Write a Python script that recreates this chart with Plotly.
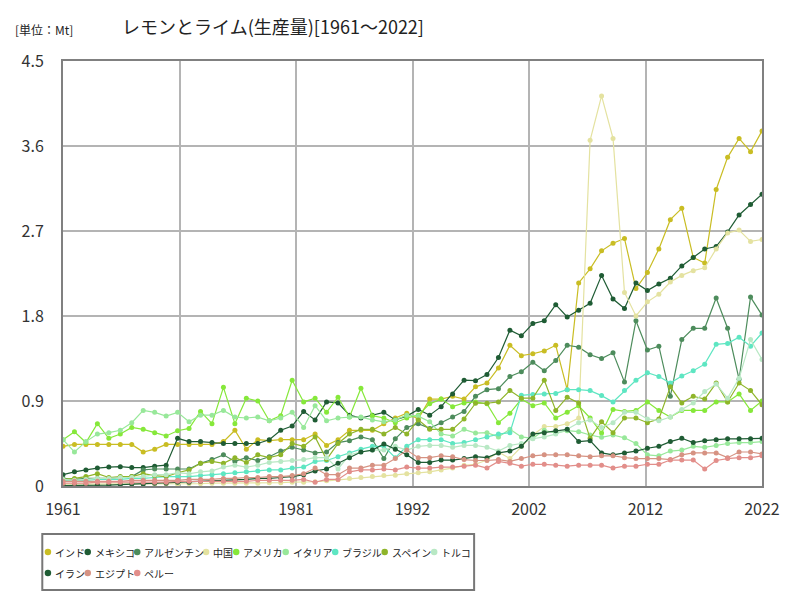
import plotly.graph_objects as go

years = list(range(1961, 2023))

india = [0.42, 0.44, 0.44, 0.44, 0.44, 0.44, 0.44, 0.36, 0.39, 0.44,
         0.44, 0.44, 0.44, 0.44, 0.47, 0.59, 0.39, 0.49, 0.48, 0.49,
         0.49, 0.49, 0.55, 0.43, 0.49, 0.59, 0.59, 0.59, 0.66, 0.72,
         0.77, 0.71, 0.92, 0.92, 0.95, 0.92, 1.05, 1.09, 1.25, 1.49,
         1.38, 1.40, 1.43, 1.49, 1.02, 2.15, 2.30, 2.49, 2.57, 2.62,
         2.09, 2.26, 2.51, 2.82, 2.94, 2.42, 2.36, 3.14, 3.48, 3.68,
         3.54, 3.76]
mexico = [0.12, 0.15, 0.17, 0.19, 0.20, 0.205, 0.195, 0.195, 0.21, 0.22,
          0.505, 0.47, 0.47, 0.46, 0.45, 0.45, 0.45, 0.45, 0.49, 0.59,
          0.635, 0.79, 0.70, 0.89, 0.88, 0.75, 0.72, 0.75, 0.78, 0.70,
          0.74, 0.81, 0.75, 0.84, 0.975, 1.12, 1.115, 1.18, 1.36, 1.65,
          1.59, 1.72, 1.75, 1.92, 1.79, 1.86, 1.935, 2.23, 1.98, 1.88,
          2.15, 2.07, 2.14, 2.20, 2.33, 2.42, 2.51, 2.535, 2.69, 2.87,
          2.98, 3.09]
argentina = [0.08, 0.07, 0.08, 0.08, 0.08, 0.09, 0.10, 0.17, 0.18, 0.18,
             0.18, 0.18, 0.24, 0.28, 0.33, 0.26, 0.30, 0.27, 0.31, 0.37,
             0.41, 0.38, 0.35, 0.36, 0.46, 0.48, 0.52, 0.49, 0.29, 0.50,
             0.62, 0.66, 0.61, 0.67, 0.73, 0.79, 0.95, 1.02, 1.03, 1.16,
             1.21, 1.31, 1.22, 1.33, 1.49, 1.47, 1.39, 1.35, 1.41, 1.10,
             1.75, 1.44, 1.48, 0.95, 1.55, 1.67, 1.67, 1.99, 1.67, 1.13,
             2.00, 1.81]
china = [0.02, 0.02, 0.02, 0.02, 0.02, 0.02, 0.02, 0.02, 0.02, 0.02,
         0.02, 0.025, 0.025, 0.03, 0.03, 0.03, 0.03, 0.03, 0.035, 0.035,
         0.04, 0.04, 0.045, 0.055, 0.065, 0.08, 0.09, 0.10, 0.11, 0.115,
         0.13, 0.14, 0.15, 0.17, 0.19, 0.22, 0.23, 0.275, 0.36, 0.29,
         0.42, 0.54, 0.63, 0.63, 0.66, 0.72, 3.66, 4.13, 3.68, 2.05,
         1.80, 1.95, 2.03, 2.16, 2.23, 2.28, 2.31, 2.51, 2.68, 2.71,
         2.59, 2.61]
usa = [0.49, 0.575, 0.46, 0.66, 0.505, 0.55, 0.62, 0.60, 0.565, 0.53,
       0.585, 0.61, 0.79, 0.66, 1.045, 0.66, 0.93, 0.90, 0.69, 0.745,
       1.12, 0.89, 0.93, 0.78, 0.94, 0.73, 1.035, 0.745, 0.72, 0.67,
       0.72, 0.75, 0.87, 0.92, 0.84, 0.88, 0.89, 0.87, 0.67, 0.77,
       0.92, 0.85, 0.88, 0.72, 0.78, 0.85, 0.72, 0.56, 0.81, 0.79,
       0.80, 0.89, 0.80, 0.73, 0.80, 0.80, 0.80, 0.89, 0.89, 0.975,
       0.80, 0.90]
italy = [0.49, 0.36, 0.47, 0.55, 0.565, 0.59, 0.67, 0.80, 0.78, 0.74,
         0.78, 0.68, 0.75, 0.75, 0.80, 0.73, 0.72, 0.73, 0.69, 0.72,
         0.78, 0.62, 0.85, 0.69, 0.72, 0.73, 0.73, 0.70, 0.68, 0.70,
         0.75, 0.74, 0.68, 0.55, 0.53, 0.60, 0.56, 0.565, 0.52, 0.60,
         0.52, 0.505, 0.59, 0.56, 0.586, 0.575, 0.54, 0.516, 0.54, 0.51,
         0.45, 0.33, 0.32, 0.37, 0.38, 0.42, 0.41, 0.43, 0.45, 0.46,
         0.46, 0.47]
brazil = [0.06, 0.06, 0.06, 0.07, 0.07, 0.07, 0.08, 0.08, 0.09, 0.10,
          0.10, 0.10, 0.11, 0.12, 0.13, 0.14, 0.15, 0.16, 0.17, 0.17,
          0.19, 0.20, 0.26, 0.27, 0.31, 0.35, 0.39, 0.42, 0.42, 0.30,
          0.42, 0.49, 0.49, 0.49, 0.45, 0.46, 0.49, 0.52, 0.55, 0.565,
          0.96, 0.97, 0.975, 0.98, 1.02, 1.02, 1.01, 0.957, 0.89, 1.01,
          1.12, 1.20, 1.16, 1.09, 1.165, 1.22, 1.29, 1.50, 1.51, 1.575,
          1.48, 1.62]
spain = [0.07, 0.08, 0.10, 0.13, 0.09, 0.10, 0.10, 0.13, 0.11, 0.10,
         0.14, 0.17, 0.24, 0.26, 0.24, 0.30, 0.25, 0.33, 0.30, 0.33,
         0.45, 0.42, 0.52, 0.28, 0.45, 0.55, 0.60, 0.60, 0.55, 0.62,
         0.55, 0.70, 0.60, 0.60, 0.60, 0.71, 0.876, 0.876, 0.89, 1.01,
         0.93, 0.93, 1.12, 0.80, 0.94, 0.88, 0.505, 0.68, 0.565, 0.72,
         0.72, 0.67, 0.71, 1.05, 0.88, 0.95, 0.92, 1.09, 0.89, 1.09,
         1.01, 0.86]
turkey = [0.07, 0.06, 0.07, 0.08, 0.08, 0.09, 0.09, 0.10, 0.12, 0.12,
          0.14, 0.13, 0.15, 0.16, 0.20, 0.22, 0.20, 0.22, 0.25, 0.26,
          0.27, 0.28, 0.30, 0.30, 0.18, 0.33, 0.36, 0.38, 0.38, 0.42,
          0.38, 0.42, 0.43, 0.43, 0.41, 0.43, 0.43, 0.41, 0.37, 0.43,
          0.45, 0.50, 0.52, 0.55, 0.60, 0.67, 0.70, 0.62, 0.67, 0.78,
          0.78, 0.71, 0.69, 0.73, 0.81, 0.88, 1.00, 1.08, 0.93, 1.14,
          1.55, 1.34]
iran = [0.005, 0.005, 0.005, 0.01, 0.01, 0.015, 0.02, 0.02, 0.03, 0.03,
        0.04, 0.04, 0.05, 0.05, 0.06, 0.06, 0.07, 0.08, 0.08, 0.09,
        0.10, 0.12, 0.16, 0.18, 0.24, 0.30, 0.36, 0.38, 0.445, 0.39,
        0.33, 0.25, 0.25, 0.275, 0.275, 0.29, 0.31, 0.30, 0.35, 0.37,
        0.42, 0.55, 0.565, 0.586, 0.60, 0.47, 0.48, 0.35, 0.33, 0.35,
        0.37, 0.40, 0.42, 0.47, 0.505, 0.46, 0.48, 0.49, 0.50, 0.50,
        0.50, 0.505]
egypt = [0.05, 0.05, 0.05, 0.05, 0.05, 0.05, 0.06, 0.06, 0.06, 0.06,
         0.06, 0.07, 0.07, 0.07, 0.08, 0.08, 0.09, 0.09, 0.10, 0.10,
         0.11, 0.13, 0.19, 0.12, 0.12, 0.19, 0.19, 0.22, 0.22, 0.29,
         0.38, 0.30, 0.30, 0.32, 0.31, 0.28, 0.27, 0.27, 0.28, 0.26,
         0.29, 0.32, 0.33, 0.33, 0.33, 0.32, 0.31, 0.32, 0.32, 0.30,
         0.29, 0.29, 0.29, 0.28, 0.33, 0.35, 0.35, 0.35, 0.30, 0.36,
         0.36, 0.34]
peru = [0.03, 0.03, 0.03, 0.04, 0.04, 0.04, 0.04, 0.04, 0.04, 0.04,
        0.05, 0.05, 0.05, 0.05, 0.05, 0.05, 0.05, 0.06, 0.06, 0.06,
        0.06, 0.07, 0.04, 0.07, 0.07, 0.15, 0.17, 0.17, 0.18, 0.17,
        0.20, 0.19, 0.19, 0.20, 0.20, 0.21, 0.22, 0.19, 0.26, 0.24,
        0.21, 0.23, 0.23, 0.22, 0.21, 0.22, 0.22, 0.22, 0.19, 0.21,
        0.21, 0.23, 0.23, 0.275, 0.275, 0.275, 0.18, 0.27, 0.29, 0.30,
        0.30, 0.32]

x_tick_labels = ["1961", "1971", "1981", "1992", "2002", "2012", "2022"]

series = [
    ("インド", india, "#c9bd23"),
    ("メキシコ", mexico, "#1f5c34"),
    ("アルゼンチン", argentina, "#4d8c5c"),
    ("中国", china, "#e4e2a0"),
    ("アメリカ", usa, "#86e83a"),
    ("イタリア", italy, "#98e89a"),
    ("ブラジル", brazil, "#5ee6c2"),
    ("スペイン", spain, "#8fb52a"),
    ("トルコ", turkey, "#b8e8c4"),
    ("イラン", iran, "#1f5c34"),
    ("エジプト", egypt, "#d69282"),
    ("ペルー", peru, "#e28e8a"),
]

JP = "Noto Sans CJK JP"
NUM = "Liberation Sans Narrow, Noto Sans CJK JP, sans-serif"

# the page body adds an 8px margin, so the figure is drawn 8px smaller
# and every page position below is shifted back by that amount
OFF = 8
W, H = 800 - 2 * OFF, 600 - 2 * OFF

# plot area in page pixels
L, R, T, B = 63, 772, 61, 486


def px_x(p):
    return (p - L) / (R - L)


def px_y(p):
    return (B - p) / (B - T)


fig = go.Figure()

for name, vals, color in series:
    fig.add_trace(
        go.Scatter(
            x=years,
            y=vals,
            mode="lines+markers",
            name=name,
            line=dict(color=color, width=1.2),
            marker=dict(color=color, size=5),
            showlegend=False,
        )
    )

# hand-made legend (dot + text, packed like the original)
shapes = []
annotations = []
cx, cy = 47.7, 552
for name, vals, color in series:
    if cx > 470:
        cx = 47.7
        cy += 21
    r = 3.3
    shapes.append(dict(
        type="circle", xref="paper", yref="paper",
        x0=px_x(cx - r), x1=px_x(cx + r), y0=px_y(cy + r), y1=px_y(cy - r),
        fillcolor=color, line=dict(width=0),
    ))
    annotations.append(dict(
        text=name, xref="paper", yref="paper",
        x=px_x(cx + 5), y=px_y(cy), xanchor="left", yanchor="middle",
        showarrow=False, font=dict(family=JP, size=10, color="#222"),
    ))
    cx += 11 + 9.8 * len(name)

shapes.append(dict(
    type="rect", xref="paper", yref="paper",
    x0=px_x(42), x1=px_x(480), y0=px_y(590), y1=px_y(534),
    line=dict(color="#777777", width=2), fillcolor="rgba(0,0,0,0)",
))

annotations.append(dict(
    text="[単位：Mt]", xref="paper", yref="paper",
    x=px_x(12), y=px_y(29), xanchor="left", yanchor="middle",
    showarrow=False, font=dict(family=JP, size=12, color="#222"),
))

fig.update_layout(
    width=W,
    height=H,
    paper_bgcolor="white",
    plot_bgcolor="white",
    margin=dict(l=L - OFF, r=W - (R - OFF), t=T - OFF, b=H - (B - OFF)),
    title=dict(
        text="レモンとライム(生産量)[1961～2022]",
        x=(273 - OFF) / W, xanchor="center",
        y=1 - (28 - OFF) / H, yanchor="middle",
        font=dict(family=JP, size=18, color="#222"),
    ),
    shapes=shapes,
    annotations=annotations,
    showlegend=False,
)

fig.update_xaxes(
    range=[1961, 2022],
    tickvals=[1961 + i * 61 / 6 for i in range(7)],
    ticktext=x_tick_labels,
    showgrid=True, gridcolor="#b4b4b4", gridwidth=2,
    showline=True, linecolor="#808080", linewidth=2, mirror=True,
    zeroline=False, ticks="", ticklabelstandoff=8,
    tickfont=dict(family=NUM, size=16, color="#333"),
)
fig.update_yaxes(
    range=[0, 4.5],
    dtick=0.9, tick0=0,
    showgrid=True, gridcolor="#b4b4b4", gridwidth=2,
    showline=True, linecolor="#808080", linewidth=2, mirror=True,
    zeroline=False, ticks="", ticklabelstandoff=14,
    tickfont=dict(family=NUM, size=16, color="#333"),
)

fig.write_html("out.html")
